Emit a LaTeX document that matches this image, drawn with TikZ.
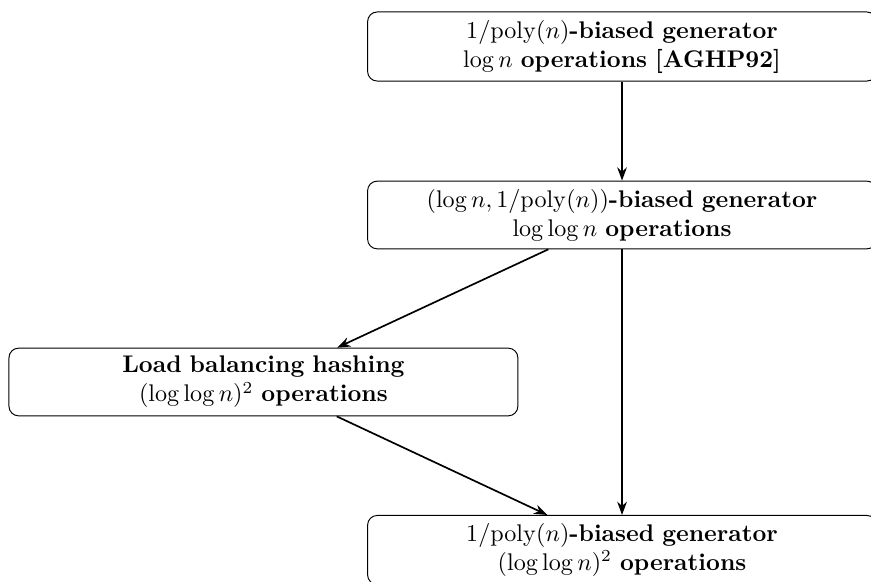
\documentclass[tikz,border=0pt]{standalone}
\usetikzlibrary{arrows.meta}
\begin{document}
\begin{tikzpicture}[x=1pt,y=1pt,
  gbox/.style={draw, rounded corners=4pt, align=center, text width=204.5pt, inner sep=3.33pt, line width=0.4pt},
  conn/.style={-{Stealth[length=5.5pt,width=4pt]}, line width=0.7pt}]
\useasboundingbox (0,0) rectangle (361.4,-241.1);
\clip (0,0) rectangle (361.4,-241.1);
\node[gbox] (top) at (258.1,-19.3) {$1/\mathrm{poly}(n)$\textbf{-biased generator}\\ $\log n$ \textbf{operations [AGHP92]}};
\node[gbox] (mid) at (258.1,-89.2) {$(\log n, 1/\mathrm{poly}(n))$\textbf{-biased generator}\\ $\log\log n$ \textbf{operations}};
\node[gbox] (lb) at (109.3,-158.5) {\textbf{Load balancing hashing}\\ $(\log\log n)^2$ \textbf{operations}};
\node[gbox] (bot) at (258.1,-228.2) {$1/\mathrm{poly}(n)$\textbf{-biased generator}\\ $(\log\log n)^2$ \textbf{operations}};
\draw[conn] (top) -- (mid);
\draw[conn] (mid) -- (lb);
\draw[conn] (mid) -- (bot);
\draw[conn] (lb) -- (bot);
\end{tikzpicture}
\end{document}
